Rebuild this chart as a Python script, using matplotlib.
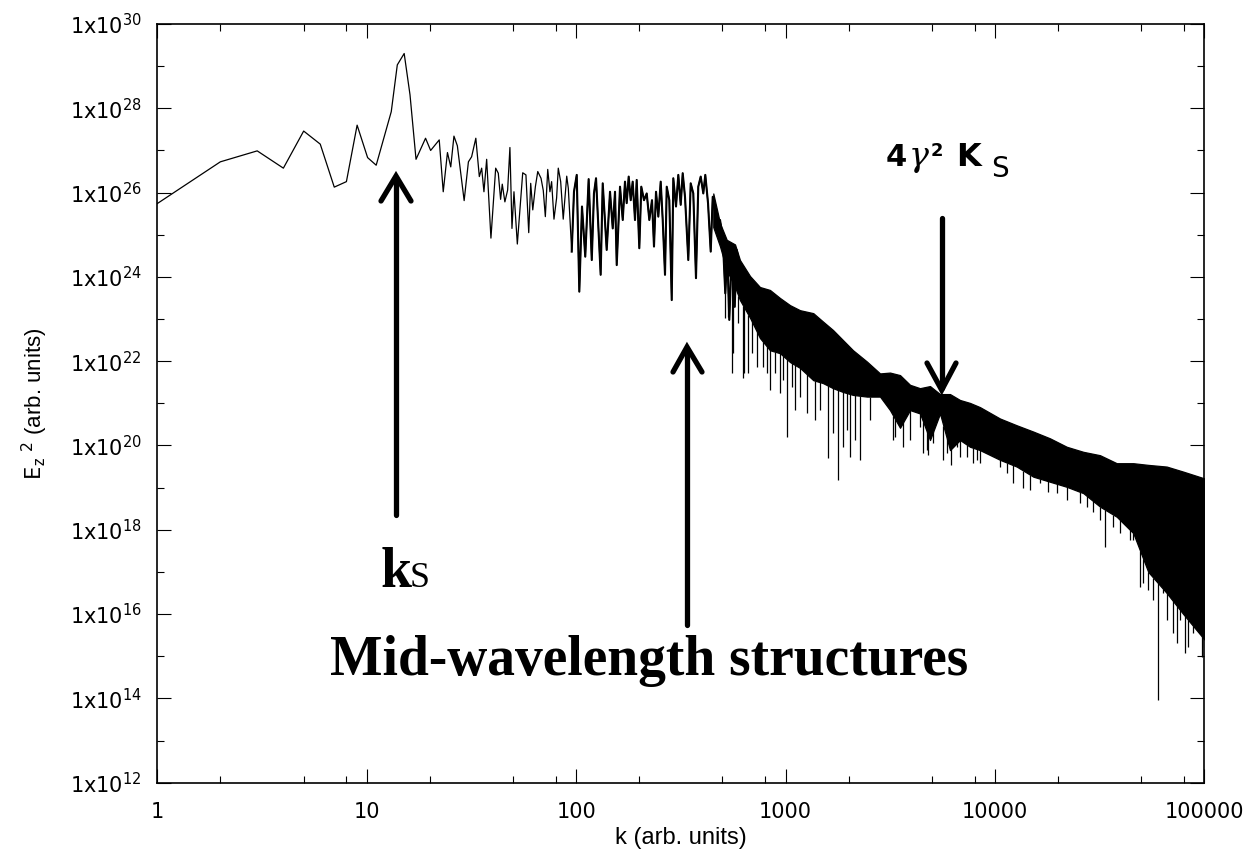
import numpy as np
import matplotlib
matplotlib.use("Agg")
import matplotlib.pyplot as plt
from matplotlib.lines import Line2D
from matplotlib import font_manager

# ---------------- data ----------------
# low-k part: individual samples (k, log10 Ez^2)
k_low = [1, 2, 3, 4, 5, 6, 7, 8, 9, 10.1, 11.1, 13.1, 14.0, 15.1, 16.1, 17.2, 19.1, 20.2,
         22.2, 23.2, 24.3, 25.2, 26.1, 27.1, 29.2, 30.6, 31.7, 33.2, 34.5, 35.4, 36.3, 37.4,
         39.2, 41.3, 42.5, 43.6, 44.4, 45.7, 47.1, 48.3, 49.4, 50.5, 52.4, 54.0, 55.6, 57.6,
         59.4, 60.7, 62.1, 63.9, 65.6, 68.0, 69.7, 71.3, 73.2, 75.0, 76.4, 78.4, 80.7, 82.2,
         84.4, 86.8, 90.2, 91.8, 95.3, 97.7, 100.7, 103.6, 106.7, 110.6, 114.8, 118.8, 121.7,
         124.5, 131.0, 134.0, 140.0, 145.2, 149.6, 153.4, 156.3, 162.1, 167.0, 171.2, 174.4,
         178.3, 182.3, 186.3, 191.1, 194.7, 200.4, 204.8, 211.0, 217.4, 223.7, 230.4, 235.5,
         240.8, 247.0, 253.5, 259.2, 265.8, 270.9, 278.7, 286.2, 291.2, 300.0, 307.7, 315.9,
         322.9, 331.2, 343.4, 352.6, 362.8, 373.7, 383.2, 393.6, 405.0, 414.0, 426.6, 439.4,
         449.2, 462.3, 472.5, 486.8, 501.2, 515.8, 527.3, 539.0, 555.3, 572.1, 584.8, 597.7]
loge_low = [25.74, 26.73, 26.99, 26.58, 27.46, 27.15, 26.13, 26.26, 27.60, 26.83, 26.65, 27.92,
            29.03, 29.30, 28.32, 26.79, 27.29, 27.00, 27.25, 26.02, 26.95, 26.61, 27.34, 27.11,
            25.81, 26.73, 26.85, 27.29, 26.38, 26.58, 26.02, 26.79, 24.92, 26.58, 26.46, 25.84,
            26.20, 25.78, 26.06, 27.07, 25.15, 26.02, 24.78, 25.63, 26.47, 26.42, 25.05, 26.22,
            25.59, 26.14, 26.50, 26.34, 26.05, 25.43, 26.55, 26.02, 26.26, 25.37, 25.87, 26.58,
            26.26, 25.37, 26.39, 26.10, 24.60, 26.02, 26.42, 23.65, 25.67, 24.48, 26.32, 24.40,
            25.98, 26.34, 24.05, 26.22, 24.64, 26.02, 25.15, 26.02, 24.28, 26.14, 25.35, 26.26,
            25.75, 26.38, 25.82, 26.26, 25.35, 26.30, 24.68, 26.14, 25.82, 25.98, 25.35, 25.82,
            24.72, 26.02, 25.43, 26.26, 25.35, 24.05, 26.14, 25.82, 23.45, 26.34, 25.67, 26.42,
            25.71, 26.46, 25.90, 24.40, 26.22, 25.98, 23.97, 26.14, 26.38, 25.98, 26.42, 25.75,
            24.60, 25.90, 25.51, 25.11, 25.35, 24.95, 23.61, 24.56, 22.98, 24.72, 23.29, 24.64,
            24.40]

# dense high-k part: upper envelope and lower edge of the solid band
k_band = [452, 487, 524, 574, 606, 677, 755, 843, 941, 1051, 1173, 1357, 1511, 1686, 1882,
          2101, 2450, 2828, 3155, 3523, 3932, 4388, 4899, 5468, 6104, 6812, 7604, 8490,
          10580, 12710, 15260, 18330, 22030, 26440, 31760, 38170, 45800, 54000, 66140,
          79380, 100000]
band_top = [25.98, 25.27, 24.88, 24.77, 24.40, 24.02, 23.76, 23.69, 23.50, 23.33, 23.21, 23.14,
            22.94, 22.74, 22.50, 22.26, 21.99, 21.71, 21.73, 21.67, 21.44, 21.36, 21.41, 21.22,
            21.22, 21.08, 21.01, 20.91, 20.64, 20.48, 20.33, 20.17, 19.97, 19.85, 19.77, 19.58,
            19.58, 19.54, 19.50, 19.38, 19.22]
band_bot = [25.18, 24.72, 24.16, 23.76, 23.45, 23.03, 22.55, 22.26, 22.19, 21.98, 21.84, 21.55,
            21.48, 21.36, 21.27, 21.20, 21.16, 21.16, 20.84, 20.42, 20.84, 20.76, 20.13, 20.76,
            19.89, 20.13, 19.97, 19.89, 19.66, 19.50, 19.26, 19.14, 19.02, 18.87, 18.55, 18.31,
            17.92, 17.00, 16.50, 16.00, 15.40]

# downward spikes below the band
k_spike = [514, 533, 553, 563, 595, 629, 634, 664, 690, 729, 783, 813, 843, 891, 941, 976,
           1013, 1071, 1110, 1173, 1263, 1383, 1461, 1590, 1692, 1787, 1888, 1960, 2032, 2147,
           2269, 2532, 3272, 3334, 3653, 3932, 4388, 4551, 4724, 4792, 5080, 5670, 5886, 6152,
           6570, 6812, 7335, 7884, 8188, 8490, 10580, 11390, 12240, 13660, 14710, 16420, 17990,
           19730, 22030, 25500, 27440, 29500, 31760, 33560, 36760, 39570, 44180, 45800, 49320,
           51130, 54040, 57080, 60110, 63720, 66140, 71120, 73830, 76560, 80880, 83860, 88620,
           91990, 97190, 99680]
spike_val = [23.02, 23.06, 21.71, 22.19, 22.91, 21.59, 21.71, 21.72, 22.19, 21.87, 21.87, 21.71,
             21.32, 21.71, 21.25, 21.55, 20.21, 21.39, 20.84, 21.16, 20.76, 20.60, 20.84, 19.70,
             20.29, 19.18, 19.97, 20.37, 19.73, 20.13, 19.66, 20.60, 20.13, 20.21, 19.97, 20.13,
             20.45, 19.82, 19.89, 19.77, 20.06, 19.66, 19.82, 19.54, 19.97, 19.73, 19.73, 19.58,
             19.66, 19.58, 19.50, 19.34, 19.10, 18.98, 18.94, 19.10, 18.90, 18.87, 18.71, 18.63,
             18.55, 18.43, 18.23, 17.60, 18.07, 17.92, 17.76, 17.76, 16.65, 16.73, 16.57, 16.33,
             13.96, 16.49, 15.86, 15.54, 15.31, 15.86, 15.07, 15.23, 15.54, 15.70, 14.99, 15.23]

xticks = [1, 10, 100, 1000, 10000, 100000]
xticklabels = ["1", "10", "100", "1000", "10000", "100000"]
yexps = list(range(12, 31, 2))


def pick(fams, default):
    for f in fams:
        try:
            font_manager.findfont(font_manager.FontProperties(family=f),
                                  fallback_to_default=False)
            return f
        except Exception:
            pass
    return default


narrow = pick(["Liberation Sans Narrow", "DejaVu Sans Condensed"], "Liberation Sans")

# ---------------- figure ----------------
W, H = 1252, 856
fig = plt.figure(figsize=(W / 100, H / 100), dpi=100)
L, R, T, B = 157.3, 1204.3, 24.0, 782.7
ax = fig.add_axes([L / W, 1 - B / H, (R - L) / W, (B - T) / H])
ax.set_xscale("log")
ax.set_yscale("log")
ax.set_xlim(1, 1e5)
ax.set_ylim(1e12, 1e30)

lw = 0.9
k_arr = np.array(k_low)
e_arr = 10 ** np.array(loge_low)
ax.plot(k_arr, e_arr, color="black", lw=lw)
dense = k_arr >= 95
ax.plot(k_arr[dense], e_arr[dense], color="black", lw=1.5)
ax.fill_between(k_band, 10 ** np.array(band_bot), 10 ** np.array(band_top),
                color="black", lw=lw, edgecolor="black")
lk_band = np.log10(k_band)
spike_top = 10 ** np.interp(np.log10(k_spike), lk_band, band_bot)
ax.vlines(k_spike, 10 ** np.array(spike_val), spike_top, color="black", lw=lw)

# ticks
ax.set_xticks(xticks)
ax.set_xticklabels(xticklabels)
ax.set_yticks([10.0 ** e for e in yexps])
ax.set_yticklabels([r"1x10$^{%d}$" % e for e in yexps])
ax.set_xticks([m * 10.0 ** d for d in range(0, 5) for m in (2, 5, 8)], minor=True)
ax.set_yticks([10.0 ** e for e in range(13, 30, 2)], minor=True)
ax.xaxis.set_minor_formatter(matplotlib.ticker.NullFormatter())
ax.yaxis.set_minor_formatter(matplotlib.ticker.NullFormatter())
ax.tick_params(which="both", direction="in", top=True, right=True, width=0.8)
ax.tick_params(which="major", length=10)
ax.tick_params(which="minor", length=5)
ax.tick_params(axis="x", which="major", pad=14, labelsize=15)
ax.tick_params(axis="y", which="major", pad=11, labelsize=15)
for s in ax.spines.values():
    s.set_linewidth(1.2)

ax.set_xlabel("k (arb. units)", fontsize=17, family=narrow)
ax.set_ylabel(r"$\mathtt{E_z}^{\ 2}$ (arb. units)", fontsize=16, family=narrow)
ax.xaxis.set_label_coords(0.5, (B - 838) / (B - T))
ax.xaxis.label.set_va("center")
ax.yaxis.set_label_coords((35 - L) / (R - L), 0.5)
ax.yaxis.label.set_va("center")


# ---------------- annotations (figure pixel coordinates) ----------------
def P(x, y):
    return (x / W, 1 - y / H)


def fline(xs, ys, lw=3.8):
    pts = [P(x, y) for x, y in zip(xs, ys)]
    fig.add_artist(Line2D([p[0] for p in pts], [p[1] for p in pts], transform=fig.transFigure,
                          color="black", lw=lw, solid_capstyle="round",
                          solid_joinstyle="miter"))


# k_S arrow (up)
fline([396, 396], [515, 178])
fline([381, 396, 411], [201, 176, 201])
# mid-wavelength arrow (up)
fline([687, 687], [625, 350])
fline([673, 687, 702], [372, 347, 372])
# 4 gamma^2 K_S arrow (down)
fline([941.7, 941.7], [218, 388])
fline([927, 941.7, 956], [363, 390, 363])

fig.text(*P(381, 587), "k", fontsize=40, fontweight="bold", family="Liberation Serif",
         ha="left", va="baseline")
fig.text(*P(410, 587), "S", fontsize=26, family="Liberation Serif", ha="left", va="baseline")
fig.text(*P(330, 675), "Mid-wavelength structures", fontsize=40, fontweight="bold",
         family="Liberation Serif", ha="left", va="baseline")

fig.text(*P(886, 166), "4", fontsize=22, fontweight="bold", family="DejaVu Sans",
         ha="left", va="baseline")
fig.text(*P(909, 166), "γ", fontsize=24, style="italic", family="DejaVu Serif",
         ha="left", va="baseline")
fig.text(*P(931, 156), "2", fontsize=13, fontweight="bold", family="DejaVu Sans",
         ha="left", va="baseline")
fig.text(*P(956, 166), "K", fontsize=23, fontweight="bold", family="DejaVu Sans",
         ha="left", va="baseline")
fig.text(*P(991, 177), "S", fontsize=20, family="DejaVu Sans", ha="left", va="baseline")

fig.savefig("out.png", dpi=100)
